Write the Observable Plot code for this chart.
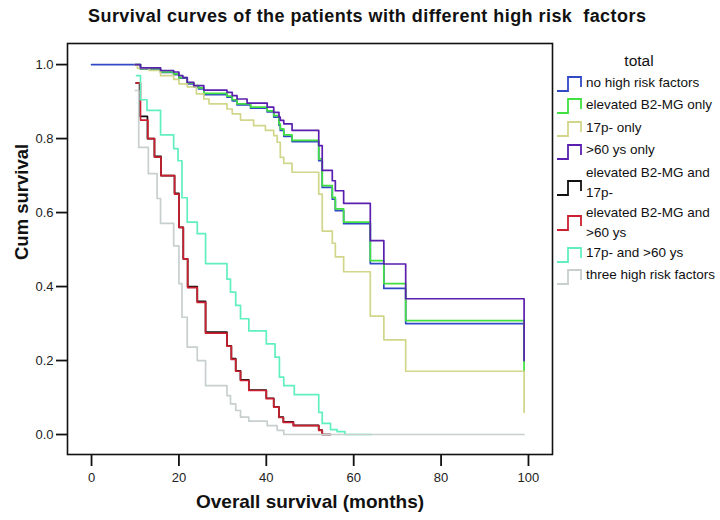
<!DOCTYPE html>
<html>
<head>
<meta charset="utf-8">
<script src="https://cdn.jsdelivr.net/npm/d3@7"></script>
<script src="https://cdn.jsdelivr.net/npm/@observablehq/plot@0.6"></script>
<style>
  html, body { margin: 0; padding: 0; background: #fff; }
  #wrap { position: relative; width: 720px; height: 520px; font-family: "Liberation Sans", Arial, sans-serif; }
  #title { position: absolute; left: 88px; top: 6px; font-size: 18px; letter-spacing: 0.45px; font-weight: bold; color: #111; white-space: nowrap; }
  #chart { position: absolute; left: 0; top: 0; }
  #legend { position: absolute; left: 552px; top: 0; }
</style>
</head>
<body>
<div id="wrap">
  <div id="chart"></div>
  <div id="title">Survival curves of the patients with different high risk&nbsp; factors</div>
  <div id="legend"></div>
</div>
<script>
// ---- Data ----
const groupNames = [
  "no high risk factors",
  "elevated B2-MG only",
  "17p- only",
  ">60 ys only",
  "elevated B2-MG and 17p-",
  "elevated B2-MG and >60 ys",
  "17p- and >60 ys",
  "three high risk factors"
];
const groupColors = ["#3149c5", "#40e040", "#d2d68a", "#5a1fae", "#111111", "#cc1f2f", "#60efc0", "#c7cfcf"];
const legendLines = [
  ["no high risk factors"],
  ["elevated B2-MG only"],
  ["17p- only"],
  [">60 ys only"],
  ["elevated B2-MG and", "17p-"],
  ["elevated B2-MG and", ">60 ys"],
  ["17p- and >60 ys"],
  ["three high risk factors"]
];
const legendTitle = "total";
const xTicks = [0, 20, 40, 60, 80, 100];
const yTicks = [0, 0.2, 0.4, 0.6, 0.8, 1.0];

// times (months) and cumulative survival, step-after
const noRiskT = [0, 10, 11.2, 15.8, 18.8, 20, 21.9, 23.4, 24.5, 25.7, 31, 32.2, 33.3, 36.4, 40.2, 41.7, 42.9, 43.2, 44, 45.9, 52, 52.8, 55.1, 55.8, 57.7, 63.8, 66.9, 71.9, 99, 99];
const noRiskS = [1.0, 1.0, 0.988, 0.979, 0.973, 0.963, 0.948, 0.94, 0.934, 0.919, 0.912, 0.902, 0.891, 0.882, 0.872, 0.858, 0.836, 0.822, 0.806, 0.792, 0.74, 0.668, 0.636, 0.605, 0.57, 0.462, 0.395, 0.30, 0.30, 0.20];

const b2mgT = [10, 11.2, 15.8, 18.8, 20, 21.9, 23.4, 24.5, 25.7, 31, 32.2, 33.3, 36.4, 40.2, 41.7, 42.9, 43.2, 44, 45.9, 52, 52.8, 55.1, 55.8, 57.7, 63.8, 66.9, 71.9, 99, 99];
const b2mgS = [1.0, 0.989, 0.98, 0.975, 0.965, 0.95, 0.943, 0.937, 0.922, 0.915, 0.905, 0.894, 0.885, 0.875, 0.862, 0.84, 0.826, 0.81, 0.795, 0.745, 0.673, 0.641, 0.61, 0.574, 0.47, 0.408, 0.308, 0.308, 0.17];

const p17T = [10, 10.5, 13.2, 15.8, 18.8, 20, 21.9, 24, 25.7, 26.9, 31, 32.2, 34.1, 37.1, 39.8, 41.7, 42.5, 43.2, 44, 45.9, 52, 52.8, 55.1, 55.8, 57.7, 63.8, 66.9, 71.9, 99, 99];
const p17S = [1.0, 0.99, 0.984, 0.97, 0.96, 0.948, 0.94, 0.921, 0.907, 0.894, 0.88, 0.867, 0.85, 0.835, 0.822, 0.808, 0.79, 0.749, 0.733, 0.709, 0.65, 0.55, 0.517, 0.48, 0.44, 0.32, 0.256, 0.171, 0.171, 0.06];

const age60T = [10, 11.2, 15.8, 18.8, 20, 20.9, 21.9, 23.4, 25.7, 31, 32.2, 33.3, 35.6, 40.2, 41.7, 42.9, 43.2, 44, 45.9, 52, 52.8, 55.1, 55.8, 57.7, 63.8, 66.9, 71.9, 99, 99];
const age60S = [1.0, 0.991, 0.984, 0.98, 0.97, 0.965, 0.952, 0.943, 0.931, 0.925, 0.916, 0.907, 0.896, 0.885, 0.871, 0.858, 0.849, 0.84, 0.822, 0.781, 0.714, 0.686, 0.659, 0.625, 0.524, 0.461, 0.367, 0.367, 0.20];

const b2mg17T = [10.2, 11.0, 12.8, 14.4, 15.9, 19.0, 20, 21, 22, 24.2, 26.1, 31, 32, 33, 34.1, 36, 40, 41.7, 42.9, 43.9, 46.2, 52, 52.8, 54.7];
const b2mg17S = [0.95, 0.86, 0.80, 0.752, 0.70, 0.652, 0.56, 0.475, 0.40, 0.36, 0.277, 0.24, 0.205, 0.172, 0.148, 0.12, 0.098, 0.075, 0.047, 0.034, 0.025, 0.012, 0.0, 0.0];

const b2mg60T = [10.2, 11.2, 12.9, 14.4, 15.9, 19.0, 20, 21, 22, 24.2, 26.1, 31, 32, 33, 34.1, 36, 40, 41.7, 42.9, 43.9, 46.2, 52, 52.8, 54.7];
const b2mg60S = [0.95, 0.85, 0.80, 0.75, 0.70, 0.65, 0.56, 0.475, 0.397, 0.357, 0.274, 0.239, 0.203, 0.171, 0.146, 0.119, 0.097, 0.074, 0.046, 0.033, 0.024, 0.011, 0.0, 0.0];

const p17age60T = [10.3, 11.2, 12.7, 15.8, 18.8, 19.8, 20.7, 21.9, 24.2, 26.1, 31, 31.8, 33, 34.1, 36, 40, 42, 43, 44, 46.4, 52, 52.8, 54.7, 56.2, 58, 64];
const p17age60S = [0.97, 0.905, 0.876, 0.81, 0.773, 0.74, 0.64, 0.574, 0.543, 0.462, 0.42, 0.385, 0.349, 0.313, 0.28, 0.245, 0.209, 0.155, 0.132, 0.108, 0.06, 0.03, 0.013, 0.008, 0.0, 0.0];

const threeT = [10, 10.8, 13, 15, 15.8, 18.8, 20, 20.7, 21.9, 24.2, 26.1, 31, 31.8, 33, 34.1, 36, 40.2, 42.5, 44, 99];
const threeS = [0.93, 0.776, 0.705, 0.638, 0.571, 0.51, 0.408, 0.317, 0.236, 0.20, 0.132, 0.105, 0.083, 0.065, 0.047, 0.036, 0.024, 0.011, 0.0, 0.0];

const seriesT = [noRiskT, b2mgT, p17T, age60T, b2mg17T, b2mg60T, p17age60T, threeT];
const seriesS = [noRiskS, b2mgS, p17S, age60S, b2mg17S, b2mg60S, p17age60S, threeS];

const rows = groupNames.flatMap((g, k) => seriesT[k].map((t, i) => ({group: g, t, s: seriesS[k][i]})));

const font = "'Liberation Sans', Arial, sans-serif";

const chart = Plot.plot({
  width: 560,
  height: 520,
  marginLeft: 67,
  marginRight: 8,
  marginTop: 43,
  marginBottom: 66,
  style: {fontFamily: font, background: "transparent", overflow: "visible"},
  x: {domain: [-5.5, 105.5]},
  y: {domain: [-0.054, 1.057]},
  color: {domain: groupNames, range: groupColors},
  marks: [
    Plot.line(rows, {x: "t", y: "s", z: "group", stroke: "group", curve: "step-after", strokeWidth: 1.7}),
    Plot.frame({stroke: "#111", strokeWidth: 1.6}),
    Plot.axisX({ticks: xTicks, tickSize: 12, tickPadding: 6, fontSize: 13, fill: "#222", stroke: "#111", strokeWidth: 1.8, label: null}),
    Plot.axisY({ticks: yTicks, tickSize: 11, tickPadding: 3, fontSize: 13, fill: "#222", stroke: "#111", strokeWidth: 1.8, tickFormat: d3.format(".1f"), label: null}),
    Plot.text(["Overall survival (months)"], {frameAnchor: "bottom", dy: 53, fontSize: 19, fontWeight: "bold", fill: "#111"}),
    Plot.text(["Cum survival"], {frameAnchor: "left", dx: -45, dy: 11, rotate: -90, fontSize: 18.5, fontWeight: "bold", fill: "#111"})
  ]
});
document.getElementById("chart").appendChild(chart);

// ---- Legend ----
const legendTextY = [83, 105, 128, 150, 173, 213, 253, 275];
const glyphY = [84, 106, 129, 152, 188, 223, 255, 277];
const lsvg = d3.select("#legend").append("svg").attr("width", 168).attr("height", 300)
  .style("font-family", font);
lsvg.append("text").attr("x", 87).attr("y", 62).attr("text-anchor", "middle")
  .attr("dominant-baseline", "middle").attr("font-size", 15.5).attr("fill", "#111").text(legendTitle);
groupNames.forEach((g, i) => {
  const cy = glyphY[i];
  const h = 7;
  lsvg.append("path")
    .attr("d", `M5,${cy + h} H16 V${cy - h} H29 V${cy + 3}`)
    .attr("fill", "none").attr("stroke", groupColors[i]).attr("stroke-width", 1.8);
  const t = lsvg.append("text").attr("font-size", 13.5).attr("fill", "#111");
  legendLines[i].forEach((line, j) => {
    t.append("tspan").attr("x", 34).attr("y", legendTextY[i] + j * 20).attr("dominant-baseline", "middle").text(line);
  });
});
</script>
</body>
</html>
